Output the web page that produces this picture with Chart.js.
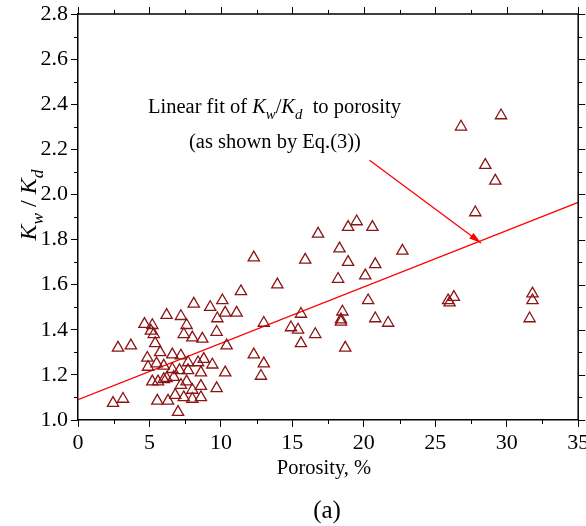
<!DOCTYPE html>
<html>
<head>
<meta charset="utf-8">
<script src="https://cdn.jsdelivr.net/npm/chart.js@4/dist/chart.umd.min.js"></script>
<style>
  html, body { margin: 0; padding: 0; background: #fff; }
  #wrap { width: 586px; height: 526px; }
</style>
</head>
<body>
<div id="wrap"><canvas id="grafico" width="586" height="526"></canvas></div>
<script>
// porosity (%) and Kw/Kd
var porosity = [
    26.8, 29.6, 28.5, 29.2, 27.8, 26.3, 26.0, 25.9, 31.8, 31.8, 31.6,
    19.5, 18.9, 20.6, 16.8, 18.3, 22.7, 15.9, 18.9, 20.8, 18.2, 20.1, 20.3,
    15.6, 18.5, 18.4, 18.4, 20.8, 21.7, 14.9, 15.4, 16.6, 15.6, 18.7, 13.95, 12.3, 11.4,
    8.1, 9.25, 10.1, 10.3, 11.1, 7.2, 13.0, 10.4, 12.3, 13.0, 12.8, 9.7, 8.7, 8.0, 7.6, 9.75, 7.4, 6.2,
    6.6, 7.2, 7.7, 8.4, 8.8, 9.4, 10.3, 6.6, 7.1, 7.7, 8.6, 6.2, 6.7, 7.6, 7.2, 8.6, 9.7, 8.0,
    6.8, 7.4, 8.0, 8.6, 6.3, 7.0,
    4.65, 5.2, 5.1, 5.3, 5.4, 5.75, 4.85, 5.5, 6.0, 4.9, 2.8, 3.7, 5.2, 5.6, 6.0, 2.45, 3.15, 5.55
];
var ratio = [
    2.30, 2.35, 2.13, 2.06, 1.92, 1.545, 1.52, 1.53, 1.56, 1.53, 1.45,
    1.88, 1.855, 1.855, 1.825, 1.76, 1.75, 1.71, 1.70, 1.69, 1.625, 1.64, 1.53,
    1.47, 1.48, 1.435, 1.445, 1.45, 1.43, 1.41, 1.40, 1.38, 1.34, 1.32, 1.60, 1.72, 1.57,
    1.515, 1.50, 1.53, 1.475, 1.475, 1.46, 1.43, 1.33, 1.29, 1.25, 1.195, 1.39, 1.36, 1.365, 1.42, 1.45, 1.38, 1.465,
    1.29, 1.285, 1.255, 1.255, 1.27, 1.245, 1.21, 1.225, 1.22, 1.22, 1.21, 1.185, 1.19, 1.17, 1.155, 1.15, 1.14, 1.133,
    1.11, 1.10, 1.093, 1.10, 1.085, 1.035,
    1.425, 1.42, 1.395, 1.38, 1.34, 1.30, 1.275, 1.25, 1.24, 1.235, 1.32, 1.33, 1.17, 1.17, 1.18, 1.075, 1.093, 1.085
];
// linear fit end points
var fitX = [0, 35];
var fitY = [1.09, 1.965];
// annotation arrow (tail, head)
var arrowX = [20.4, 28.2];
var arrowY = [2.152, 1.785];

var xTicks = [0, 5, 10, 15, 20, 25, 30, 35];
var yTicks = [1.0, 1.2, 1.4, 1.6, 1.8, 2.0, 2.2, 2.4, 2.6, 2.8];

var serif = '"Liberation Serif", "Times New Roman", serif';
var markerColor = '#8b1414';

function zip(xs, ys) {
    return xs.map(function (x, i) { return { x: x, y: ys[i] }; });
}

// draw text made of plain / italic / subscript parts
function drawRich(ctx, parts, x, y, size, align) {
    var widths = parts.map(function (p) {
        ctx.font = (p.i ? 'italic ' : '') + (p.s ? size * 0.72 : size) + 'px ' + serif;
        return ctx.measureText(p.t).width;
    });
    var total = widths.reduce(function (a, b) { return a + b; }, 0);
    var cx = align === 'center' ? x - total / 2 : x;
    ctx.textAlign = 'left';
    ctx.textBaseline = 'alphabetic';
    parts.forEach(function (p, i) {
        ctx.font = (p.i ? 'italic ' : '') + (p.s ? size * 0.72 : size) + 'px ' + serif;
        ctx.fillText(p.t, cx, y + (p.s ? size * 0.28 : 0));
        cx += widths[i];
    });
}

var framePlugin = {
    id: 'frame',
    afterDraw: function (chart) {
        var ctx = chart.ctx;
        var a = chart.chartArea;
        var xs = chart.scales.x, ys = chart.scales.y;
        ctx.save();
        ctx.strokeStyle = '#000';
        ctx.lineWidth = 1.5;
        ctx.beginPath();
        ctx.moveTo(a.left, a.top); ctx.lineTo(a.right, a.top);
        ctx.moveTo(a.right, a.top); ctx.lineTo(a.right, a.bottom);
        ctx.stroke();

        ctx.lineWidth = 1;
        ctx.beginPath();
        var v, p, len;
        for (v = 0; v <= 35.001; v += 2.5) {
            p = Math.round(xs.getPixelForValue(v)) + 0.5;
            len = (Math.abs(v % 5) < 0.01) ? 7 : 4;
            if (len === 4) { ctx.moveTo(p, a.bottom); ctx.lineTo(p, a.bottom + 4); }
            ctx.moveTo(p, a.top); ctx.lineTo(p, a.top - len);
        }
        for (var k = 0; k <= 18; k++) {
            v = 1.0 + k * 0.1;
            p = Math.round(ys.getPixelForValue(v)) + 0.5;
            len = (k % 2 === 0) ? 7 : 4;
            if (len === 4) { ctx.moveTo(a.left, p); ctx.lineTo(a.left - 4, p); }
            ctx.moveTo(a.right, p); ctx.lineTo(a.right + len, p);
        }
        ctx.stroke();

        // arrow head
        var meta = chart.getDatasetMeta(2);
        var p0 = meta.data[0], p1 = meta.data[1];
        var ang = Math.atan2(p1.y - p0.y, p1.x - p0.x);
        ctx.fillStyle = '#ff0000';
        ctx.beginPath();
        ctx.moveTo(p1.x, p1.y);
        ctx.lineTo(p1.x - 12 * Math.cos(ang) + 3.5 * Math.sin(ang), p1.y - 12 * Math.sin(ang) - 3.5 * Math.cos(ang));
        ctx.lineTo(p1.x - 12 * Math.cos(ang) - 3.5 * Math.sin(ang), p1.y - 12 * Math.sin(ang) + 3.5 * Math.cos(ang));
        ctx.closePath();
        ctx.fill();

        // texts
        ctx.fillStyle = '#000';
        drawRich(ctx, [
            { t: 'Linear fit of ' }, { t: 'K', i: 1 }, { t: 'w', i: 1, s: 1 }, { t: '/' },
            { t: 'K', i: 1 }, { t: 'd', i: 1, s: 1 }, { t: '  to porosity' }
        ], 148, 113, 20.5, 'left');
        drawRich(ctx, [{ t: '(as shown by Eq.(3))' }], 189, 148, 20.5, 'left');

        drawRich(ctx, [{ t: 'Porosity, %' }], 324, 474, 20.5, 'center');
        drawRich(ctx, [{ t: '(a)' }], 327, 518, 25, 'center');

        ctx.save();
        ctx.translate(36, 205);
        ctx.rotate(-Math.PI / 2);
        drawRich(ctx, [
            { t: 'K', i: 1 }, { t: 'w', i: 1, s: 1 }, { t: ' / ' }, { t: 'K', i: 1 }, { t: 'd', i: 1, s: 1 }
        ], 0, 0, 24, 'center');
        ctx.restore();
        ctx.restore();
    }
};

var ctx = document.getElementById('grafico').getContext('2d');
var grafico = new Chart(ctx, {
    type: 'scatter',
    data: {
        datasets: [{
            label: 'Kw/Kd',
            data: zip(porosity, ratio),
            pointStyle: 'triangle',
            pointRadius: 6.5,
            pointBorderWidth: 1.3,
            borderColor: markerColor,
            backgroundColor: 'rgba(255,255,255,0)'
        }, {
            type: 'line',
            label: 'fit',
            data: zip(fitX, fitY),
            borderColor: '#ff0000',
            borderWidth: 1.3,
            pointRadius: 0,
            fill: false
        }, {
            type: 'line',
            label: 'arrow',
            data: zip(arrowX, arrowY),
            borderColor: '#ff0000',
            borderWidth: 1.3,
            pointRadius: 0,
            fill: false
        }]
    },
    options: {
        responsive: false,
        animation: false,
        layout: { padding: { left: 0, right: 7, top: 14, bottom: 0 } },
        plugins: { legend: { display: false }, tooltip: { enabled: false } },
        scales: {
            x: {
                type: 'linear',
                min: 0, max: 35,
                afterFit: function (s) { s.height = 106; s.paddingRight = 0; s.paddingLeft = 0; },
                afterBuildTicks: function (s) { s.ticks = xTicks.map(function (v) { return { value: v }; }); },
                grid: { drawOnChartArea: false, drawTicks: true, tickLength: 7, tickColor: '#000', tickWidth: 1 },
                border: { display: true, color: '#000', width: 1.5 },
                ticks: { color: '#000', padding: 3, font: { family: serif, size: 22 }, maxRotation: 0 }
            },
            y: {
                type: 'linear',
                min: 1.0, max: 2.8,
                afterFit: function (s) { s.width = 78; s.paddingTop = 0; s.paddingBottom = 0; },
                afterBuildTicks: function (s) { s.ticks = yTicks.map(function (v) { return { value: v }; }); },
                grid: { drawOnChartArea: false, drawTicks: true, tickLength: 7, tickColor: '#000', tickWidth: 1 },
                border: { display: true, color: '#000', width: 1.5 },
                ticks: {
                    color: '#000', padding: 3, font: { family: serif, size: 22 },
                    callback: function (v) { return Number(v).toFixed(1); }
                }
            }
        }
    },
    plugins: [framePlugin]
});
</script>
</body>
</html>
